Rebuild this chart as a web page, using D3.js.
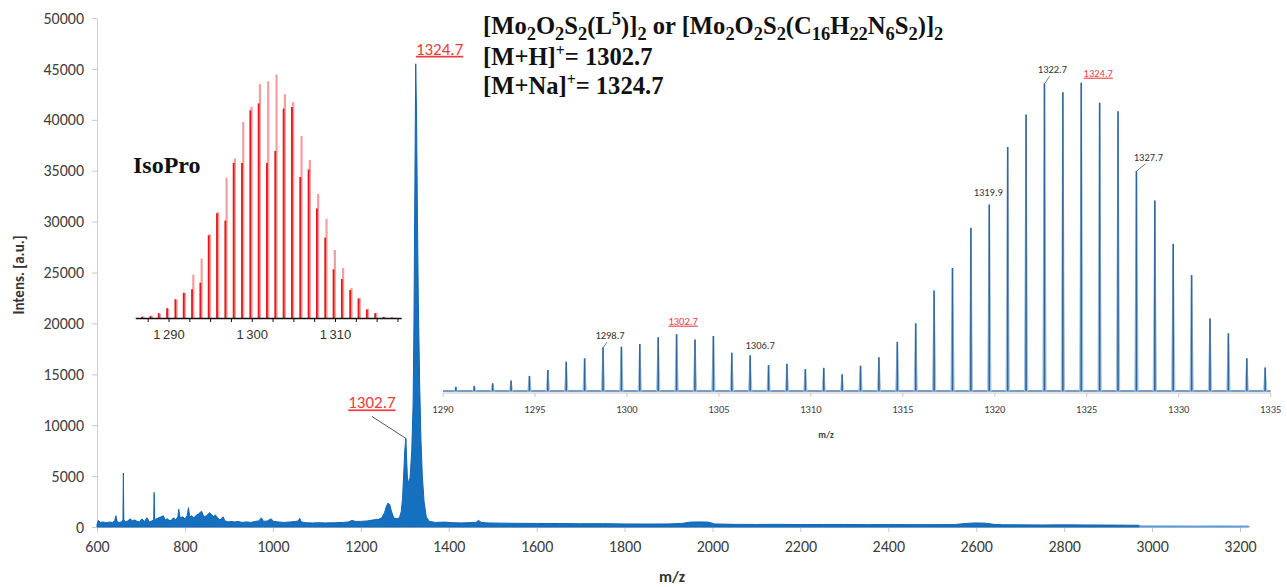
<!DOCTYPE html>
<html>
<head>
<meta charset="utf-8">
<script src="https://cdn.jsdelivr.net/npm/d3@7"></script>
<style>
  body { margin: 0; background: #fff; }
  svg { display: block; }
  text { font-family: Carlito, Calibri, Lato, "Open Sans", sans-serif; }
  .serif { font-family: "Liberation Serif", "Times New Roman", serif; font-weight: bold; }
</style>
</head>
<body>
<svg id="chart" width="1287" height="587"></svg>
<script>
// ---- main spectrum (m/z, intensity) ----
var mainMz = [600, 603, 608, 614, 620, 628, 635, 640, 643, 646, 652, 657, 659, 660, 661, 664, 670, 676, 680, 686, 691, 697, 702, 708, 714, 719, 725, 729, 730, 731, 735, 740, 746, 751, 755, 760, 766, 770, 774, 779, 784, 786, 789, 795, 800, 805, 808, 811, 816, 820, 826, 831, 838, 843, 849, 856, 861, 866, 869, 874, 880, 887, 891, 898, 905, 913, 921, 930, 940, 950, 960, 968, 974, 979, 988, 996, 1002, 1012, 1025, 1040, 1052, 1058, 1061, 1065, 1075, 1090, 1105, 1120, 1140, 1160, 1172, 1180, 1188, 1200, 1215, 1230, 1240, 1248, 1254, 1258, 1262, 1266, 1270, 1275, 1282, 1288, 1292, 1295, 1298, 1300, 1302.7, 1304, 1306, 1308, 1312, 1316, 1319, 1321, 1323, 1325, 1327, 1329, 1331, 1334, 1337, 1340, 1344, 1349, 1356, 1370, 1390, 1410, 1430, 1450, 1462, 1468, 1474, 1490, 1520, 1560, 1600, 1650, 1700, 1750, 1800, 1850, 1900, 1930, 1950, 1970, 1990, 2005, 2050, 2100, 2150, 2200, 2250, 2300, 2350, 2400, 2450, 2500, 2550, 2585, 2600, 2620, 2640, 2660, 2700, 2750, 2800, 2850, 2900, 2940, 2970]
var mainInt = [250, 650, 450, 500, 420, 480, 450, 600, 1100, 500, 450, 550, 700, 5300, 700, 500, 600, 800, 600, 700, 550, 500, 800, 550, 900, 500, 600, 700, 3400, 700, 800, 900, 1000, 1100, 700, 800, 600, 700, 900, 700, 1000, 1750, 900, 1000, 800, 1100, 1900, 1000, 1100, 900, 1150, 1300, 1550, 1000, 1100, 1400, 1200, 1000, 1200, 900, 700, 1000, 600, 500, 550, 500, 550, 450, 500, 450, 550, 600, 900, 550, 600, 800, 550, 500, 450, 500, 550, 600, 850, 500, 420, 400, 420, 400, 420, 450, 500, 650, 550, 550, 600, 700, 750, 900, 1400, 2000, 2350, 2200, 1500, 900, 800, 900, 1500, 2800, 5500, 7500, 8700, 7000, 5000, 4300, 4800, 7500, 12000, 20000, 33000, 45500, 40000, 30000, 22000, 14000, 8500, 5000, 2500, 1000, 550, 450, 480, 420, 400, 430, 450, 650, 450, 400, 380, 360, 350, 340, 320, 330, 300, 290, 300, 350, 480, 500, 480, 300, 260, 250, 260, 240, 250, 250, 230, 240, 230, 230, 240, 380, 400, 380, 260, 220, 210, 200, 210, 200, 190, 180, 170]
var tailMz = [2970, 3000, 3050, 3100, 3150, 3200, 3220]
var tailInt = [110, 100, 100, 90, 100, 90, 90]

var xTickVals = [600, 800, 1000, 1200, 1400, 1600, 1800, 2000, 2200, 2400, 2600, 2800, 3000, 3200]
var yTickVals = [0, 5000, 10000, 15000, 20000, 25000, 30000, 35000, 40000, 45000, 50000]

// ---- zoomed inset (right), relative intensity % ----
var insetMz = [1290.7, 1291.7, 1292.7, 1293.7, 1294.7, 1295.7, 1296.7, 1297.7, 1298.7, 1299.7, 1300.7, 1301.7, 1302.7, 1303.7, 1304.7, 1305.7, 1306.7, 1307.7, 1308.7, 1309.7, 1310.7, 1311.7, 1312.7, 1313.7, 1314.7, 1315.7, 1316.7, 1317.7, 1318.7, 1319.7, 1320.7, 1321.7, 1322.7, 1323.7, 1324.7, 1325.7, 1326.7, 1327.7, 1328.7, 1329.7, 1330.7, 1331.7, 1332.7, 1333.7, 1334.7]
var insetInt = [1.6, 1.9, 2.8, 3.7, 5.2, 7.1, 9.8, 10.9, 14.5, 14.6, 15.5, 17.7, 18.7, 17.0, 18.1, 12.7, 11.9, 8.7, 9.1, 7.4, 7.8, 5.7, 8.5, 11.2, 16.2, 22.2, 32.8, 40.1, 53.1, 60.6, 79.2, 89.7, 99.8, 96.9, 100, 93.5, 90.8, 71.5, 61.9, 47.9, 37.8, 23.8, 19.0, 10.9, 7.9]
var insetTickVals = [1290, 1295, 1300, 1305, 1310, 1315, 1320, 1325, 1330, 1335]
var insetLabels = ["1298.7", "1302.7", "1306.7", "1319.9", "1322.7", "1324.7", "1327.7"]
var insetLabelPeak = [1298.7, 1302.7, 1306.7, 1319.7, 1322.7, 1324.7, 1327.7]

// ---- IsoPro simulation (left inset), relative % ----
var isoMz = [1286.8, 1287.8, 1288.8, 1289.8, 1290.8, 1291.8, 1292.8, 1293.8, 1294.8, 1295.8, 1296.8, 1297.8, 1298.8, 1299.8, 1300.8, 1301.8, 1302.8, 1303.8, 1304.8, 1305.8, 1306.8, 1307.8, 1308.8, 1309.8, 1310.8, 1311.8, 1312.8, 1313.8, 1314.8, 1315.8, 1316.8]
var isoPink = [0.7, 1.0, 1.8, 3.9, 7.6, 10.3, 17.8, 24.4, 34.3, 43.5, 57.7, 65.5, 80.5, 86.7, 96.0, 97.2, 100, 91.9, 88.7, 74.7, 64.9, 50.9, 40.7, 27.9, 20.5, 12.3, 8.2, 3.7, 2.1, 0.5, 0.2]
var isoRed = [0.5, 0.8, 2.0, 4.0, 7.7, 10.4, 11.8, 14.5, 34, 43, 40, 63.7, 63.7, 85.3, 88.1, 63.7, 68.6, 86.0, 86.7, 57.9, 61, 45, 33, 20, 16, 11.5, 8, 3.5, 2, 0.4, 0.2]
var isoTickVals = [1287.5, 1290, 1292.5, 1295, 1297.5, 1300, 1302.5, 1305, 1307.5, 1310, 1312.5, 1315, 1317.5]
var isoLabelVals = [1290, 1300, 1310]

var svg = d3.select('#chart')

/*
  Main chart
*/
var x = d3.scaleLinear().domain([600, 3200]).range([97, 1240])
var y = d3.scaleLinear().domain([0, 50000]).range([527, 18])

var yAxis = svg.append('g')
  .attr('transform', 'translate(97,0)')
  .call(d3.axisLeft(y).tickValues(yTickVals).tickSize(5).tickSizeOuter(0).tickPadding(8).tickFormat(d3.format('d')))
var xAxis = svg.append('g')
  .attr('transform', 'translate(0,527)')
  .call(d3.axisBottom(x).tickValues(xTickVals).tickSize(5).tickSizeOuter(0).tickPadding(9).tickFormat(d3.format('d')))
svg.append('line')
  .attr('x1', x(3200)).attr('x2', x(3222))
  .attr('y1', 527).attr('y2', 527)
  .attr('stroke', '#d0d0d0')

;[yAxis, xAxis].forEach(g => {
  g.select('.domain').attr('stroke', '#d0d0d0')
  g.selectAll('.tick line').attr('stroke', '#c8c8c8')
  g.selectAll('.tick text').attr('fill', '#404040').attr('font-size', '16px')
    .style('font-family', 'Carlito, Calibri, Lato, sans-serif')
})

var mainData = mainMz.map((m, i) => ({ m: m, v: mainInt[i] }))
var tailData = tailMz.map((m, i) => ({ m: m, v: tailInt[i] }))

var area = d3.area().x(d => x(d.m)).y0(y(0)).y1(d => y(d.v))
svg.append('path')
  .datum(tailData)
  .attr('d', area)
  .attr('fill', '#5c9bd6')
  .attr('stroke', '#5c9bd6')
  .attr('stroke-width', 1)
svg.append('path')
  .datum(mainData)
  .attr('d', area)
  .attr('fill', '#1570c0')
  .attr('stroke', '#1266b3')
  .attr('stroke-width', 1)
  .attr('stroke-linejoin', 'round')

// axis titles
svg.append('text')
  .attr('transform', 'translate(24,275) rotate(-90)')
  .attr('text-anchor', 'middle')
  .attr('font-size', '15px').attr('font-weight', 'bold').attr('fill', '#333')
  .text('Intens. [a.u.]')
svg.append('text')
  .attr('x', 672).attr('y', 582)
  .attr('text-anchor', 'middle')
  .attr('font-size', '16px').attr('font-weight', 'bold').attr('fill', '#333')
  .text('m/z')

// red peak annotations on the main spectrum
var redCol = '#ee3b3b'
svg.append('text')
  .attr('x', x(1324.7) + 24).attr('y', y(45500) - 9)
  .attr('text-anchor', 'middle').attr('font-size', '17px')
  .attr('fill', redCol).attr('text-decoration', 'underline')
  .text('1324.7')
svg.append('text')
  .attr('x', x(1302.7) - 34).attr('y', y(8700) - 30)
  .attr('text-anchor', 'middle').attr('font-size', '17px')
  .attr('fill', redCol).attr('text-decoration', 'underline')
  .text('1302.7')
svg.append('line')
  .attr('x1', x(1302.7) - 34).attr('y1', y(8700) - 22)
  .attr('x2', x(1302.7)).attr('y2', y(8700))
  .attr('stroke', '#555').attr('stroke-width', 1)

/*
  Title formula text
*/
function richText(parent, xPos, yPos, parts, size, small) {
  var t = parent.append('text').attr('class', 'serif')
    .attr('x', xPos).attr('y', yPos).attr('font-size', size + 'px').attr('fill', '#111')
  var cur = 0
  parts.forEach(p => {
    var shift = p[1] === 'sub' ? size * 0.24 : p[1] === 'sup' ? -size * 0.36 : 0
    t.append('tspan')
      .attr('dy', shift - cur)
      .attr('font-size', (p[1] ? size * small : size) + 'px')
      .text(p[0])
    cur = shift
  })
}
richText(svg, 483, 34, [
  ['[Mo'], ['2', 'sub'], ['O'], ['2', 'sub'], ['S'], ['2', 'sub'], ['(L'], ['5', 'sup'], [')]'], ['2', 'sub'],
  [' or [Mo'], ['2', 'sub'], ['O'], ['2', 'sub'], ['S'], ['2', 'sub'], ['(C'], ['16', 'sub'], ['H'], ['22', 'sub'],
  ['N'], ['6', 'sub'], ['S'], ['2', 'sub'], [')]'], ['2', 'sub']
], 24.6, 0.75)
richText(svg, 483, 65, [['[M+H]'], ['+', 'sup'], ['= 1302.7']], 24.6, 0.64)
richText(svg, 483, 94, [['[M+Na]'], ['+', 'sup'], ['= 1324.7']], 24.6, 0.64)

/*
  Right inset: zoom of the isotope cluster
*/
var xi = d3.scaleLinear().domain([1290, 1335]).range([443, 1270.7])
var yi = d3.scaleLinear().domain([0, 100]).range([392, 82.7])
var inset = svg.append('g')

inset.append('line')
  .attr('x1', xi(1290)).attr('x2', xi(1335)).attr('y1', 393).attr('y2', 393)
  .attr('stroke', '#c8c8c8')
inset.selectAll('line.itick').data(insetTickVals).join('line')
  .attr('class', 'itick')
  .attr('x1', d => xi(d)).attr('x2', d => xi(d)).attr('y1', 393).attr('y2', 397)
  .attr('stroke', '#c8c8c8')
inset.selectAll('text.ilab').data(insetTickVals).join('text')
  .attr('class', 'ilab')
  .attr('x', d => xi(d)).attr('y', 413)
  .attr('text-anchor', 'middle').attr('font-size', '10.5px').attr('fill', '#404040')
  .text(d => d)
inset.append('text')
  .attr('x', 826).attr('y', 438)
  .attr('text-anchor', 'middle').attr('font-size', '9.5px').attr('font-weight', 'bold').attr('fill', '#404040')
  .text('m/z')

inset.append('line')
  .attr('x1', xi(1290)).attr('x2', xi(1335)).attr('y1', 391).attr('y2', 391)
  .attr('stroke', '#4a7db0').attr('stroke-width', 1.3)

var insetData = insetMz.map((m, i) => ({ m: m, v: insetInt[i] }))
var spike = d => 'M' + (xi(d.m) - 1.6) + ',' + 391 + 'L' + xi(d.m) + ',' + yi(d.v) + 'L' + (xi(d.m) + 1.6) + ',' + 391 + 'Z'
inset.selectAll('path.halo').data(insetData).join('path')
  .attr('class', 'halo')
  .attr('d', spike)
  .attr('fill', '#a9c4de').attr('stroke', '#a9c4de').attr('stroke-width', 1.2)
inset.selectAll('line.peak').data(insetData).join('line')
  .attr('class', 'peak')
  .attr('x1', d => xi(d.m)).attr('x2', d => xi(d.m))
  .attr('y1', 391).attr('y2', d => yi(d.v))
  .attr('stroke', '#2e679e').attr('stroke-width', 1.6)

// peak labels (offsets from the peak top)
var labelOffsets = [[7, -8], [6.5, -9.5], [10, -6], [-1, -9], [8, -10], [17, -6], [12, -10]]
var leaderLabels = ['1298.7', '1322.7', '1327.7']
insetLabels.forEach((lab, i) => {
  var pk = insetLabelPeak[i]
  var px = xi(pk), py = yi(insetInt[insetMz.indexOf(pk)])
  var isRed = lab === '1302.7' || lab === '1324.7'
  inset.append('text')
    .attr('x', px + labelOffsets[i][0]).attr('y', py + labelOffsets[i][1])
    .attr('text-anchor', 'middle').attr('font-size', '10.5px')
    .attr('fill', isRed ? redCol : '#333')
    .attr('text-decoration', isRed ? 'underline' : null)
    .text(lab)
  if (leaderLabels.indexOf(lab) >= 0) {
    inset.append('line')
      .attr('x1', px + labelOffsets[i][0] - 3).attr('y1', py + labelOffsets[i][1] + 3)
      .attr('x2', px + 0.5).attr('y2', py)
      .attr('stroke', '#555').attr('stroke-width', 0.8)
  }
})

/*
  Left inset: IsoPro simulated pattern
*/
var xs = d3.scaleLinear().domain([1290, 1310]).range([169, 335.5])
var ys = d3.scaleLinear().domain([0, 100]).range([318, 74.5])
var iso = svg.append('g')

var isoData = isoMz.map((m, i) => ({ m: m, p: isoPink[i], r: isoRed[i] }))
iso.selectAll('line.pink').data(isoData).join('line')
  .attr('class', 'pink')
  .attr('x1', d => xs(d.m) + 1).attr('x2', d => xs(d.m) + 1)
  .attr('y1', 318).attr('y2', d => ys(d.p))
  .attr('stroke', '#f08686').attr('stroke-opacity', 0.8).attr('stroke-width', 2.2)
iso.selectAll('line.red').data(isoData).join('line')
  .attr('class', 'red')
  .attr('x1', d => xs(d.m) - 0.3).attr('x2', d => xs(d.m) - 0.3)
  .attr('y1', 318).attr('y2', d => ys(d.r))
  .attr('stroke', '#e8161b').attr('stroke-width', 1.8)

iso.append('line')
  .attr('x1', xs(1286)).attr('x2', xs(1317.95)).attr('y1', 318.5).attr('y2', 318.5)
  .attr('stroke', '#111').attr('stroke-width', 1.6)
iso.selectAll('line.stick').data(isoTickVals).join('line')
  .attr('class', 'stick')
  .attr('x1', d => xs(d)).attr('x2', d => xs(d)).attr('y1', 318.5).attr('y2', 322)
  .attr('stroke', '#111').attr('stroke-width', 1)
iso.selectAll('text.slab').data(isoLabelVals).join('text')
  .attr('class', 'slab')
  .attr('x', d => xs(d)).attr('y', 339)
  .attr('text-anchor', 'middle').attr('font-size', '13px').attr('fill', '#333')
  .style('font-family', 'Arial, "Liberation Sans", sans-serif')
  .text(d => d3.format(',')(d).replace(',', '\u2009'))

svg.append('text').attr('class', 'serif')
  .attr('x', 133).attr('y', 173)
  .attr('font-size', '24px').attr('fill', '#111')
  .text('IsoPro')
</script>
</body>
</html>
